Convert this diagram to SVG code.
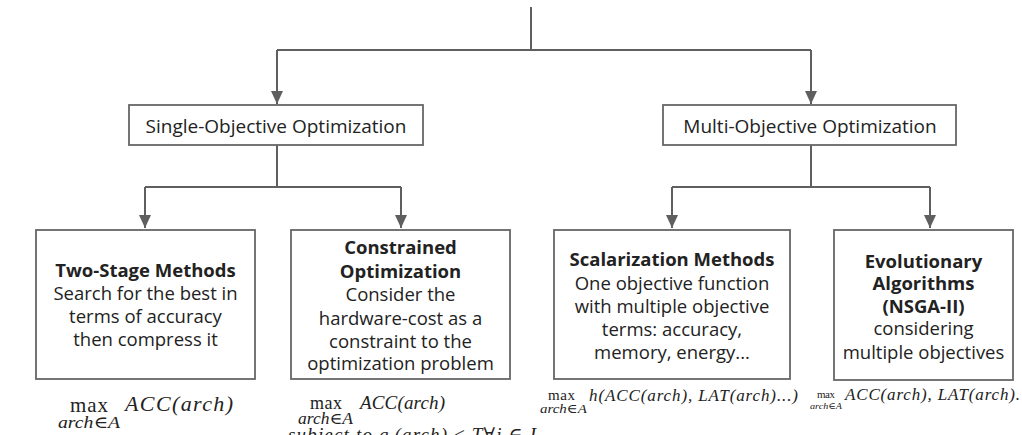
<svg xmlns="http://www.w3.org/2000/svg" width="1022" height="435" viewBox="0 0 1022 435">
<style>
.box{fill:#fff;stroke:#666;stroke-width:1.8}
.con{fill:none;stroke:#5f5f5f;stroke-width:2}
.t{font-family:"Open Sans","Noto Sans",sans-serif;font-size:18.5px;fill:#222;text-anchor:middle}
.h{font-size:19px}
.b{font-weight:bold}
.m{font-family:"Liberation Serif","DejaVu Serif",serif;fill:#222}
.i{font-style:italic}
</style>
<defs>
<marker id="ah" markerUnits="userSpaceOnUse" markerWidth="12" markerHeight="14" viewBox="0 0 12 14" refX="6" refY="13" orient="0">
<path d="M0,0 L12,0 L6,13 Z" fill="#5f5f5f"/>
</marker>
</defs>
<g id="connectors">
<path class="con" d="M531,7 V50"/>
<path class="con" d="M277,50 H811"/>
<path class="con" d="M277,50 V104" marker-end="url(#ah)"/>
<path class="con" d="M811,50 V104" marker-end="url(#ah)"/>
<path class="con" d="M277,145 V187 M145,187 H401"/>
<path class="con" d="M145,187 V228" marker-end="url(#ah)"/>
<path class="con" d="M401,187 V228" marker-end="url(#ah)"/>
<path class="con" d="M811,145 V187 M672,187 H930"/>
<path class="con" d="M672,187 V228" marker-end="url(#ah)"/>
<path class="con" d="M930,187 V228" marker-end="url(#ah)"/>
</g>
<g id="single">
<rect class="box" x="129" y="105" width="294" height="40"/>
<text class="t h" x="276" y="133">Single-Objective Optimization</text>
</g>
<g id="multi">
<rect class="box" x="663" y="105" width="293" height="40"/>
<text class="t h" x="810" y="133">Multi-Objective Optimization</text>
</g>
<g id="twostage">
<rect class="box" x="36" y="230" width="219" height="149"/>
<text class="t b" x="145.5" y="277">Two-Stage Methods</text>
<text class="t" x="145.5" y="300">Search for the best in</text>
<text class="t" x="145.5" y="323">terms of accuracy</text>
<text class="t" x="145.5" y="346">then compress it</text>
</g>
<g id="constrained">
<rect class="box" x="291" y="230" width="219" height="149"/>
<text class="t b" x="400.5" y="254">Constrained</text>
<text class="t b" x="400.5" y="278">Optimization</text>
<text class="t" x="400.5" y="301">Consider the</text>
<text class="t" x="400.5" y="325">hardware-cost as a</text>
<text class="t" x="400.5" y="348">constraint to the</text>
<text class="t" x="400.5" y="370">optimization problem</text>
</g>
<g id="scalarization">
<rect class="box" x="554" y="230" width="236" height="149"/>
<text class="t b" x="672" y="266">Scalarization Methods</text>
<text class="t" x="672" y="290">One objective function</text>
<text class="t" x="672" y="313">with multiple objective</text>
<text class="t" x="672" y="336">terms: accuracy,</text>
<text class="t" x="672" y="359">memory, energy...</text>
</g>
<g id="evolutionary">
<rect class="box" x="834" y="230" width="179" height="150"/>
<text class="t b" x="923.5" y="268">Evolutionary</text>
<text class="t b" x="923.5" y="290">Algorithms</text>
<text class="t b" x="923.5" y="313">(NSGA-II)</text>
<text class="t" x="923.5" y="335">considering</text>
<text class="t" x="923.5" y="359">multiple objectives</text>
</g>
<g id="formulas">
<text class="m" x="70" y="412" font-size="21" textLength="38">max</text>
<text class="m i" x="58" y="428" font-size="17" textLength="62" lengthAdjust="spacingAndGlyphs">arch∈A</text>
<text class="m i" x="125" y="411" font-size="22" textLength="108">ACC(arch)</text>

<text class="m" x="310" y="409" font-size="18" textLength="32">max</text>
<text class="m i" x="298" y="424" font-size="16" textLength="55" lengthAdjust="spacingAndGlyphs">arch∈A</text>
<text class="m i" x="360" y="409" font-size="19" textLength="85">ACC(arch)</text>
<text class="m i" x="288" y="441" font-size="19" textLength="248">subject to g<tspan font-size="13" dy="4">i</tspan><tspan dy="-4">(arch) ≤ T∀i ∈ I</tspan></text>

<text class="m" x="548" y="400" font-size="15" textLength="27">max</text>
<text class="m i" x="540" y="413" font-size="13" textLength="47" lengthAdjust="spacingAndGlyphs">arch∈A</text>
<text class="m i" x="589" y="401" font-size="17" textLength="209">h(ACC(arch), LAT(arch)...)</text>

<text class="m" x="817" y="398" font-size="11" textLength="18">max</text>
<text class="m i" x="810" y="409" font-size="9" textLength="32" lengthAdjust="spacingAndGlyphs">arch∈A</text>
<text class="m i" x="845" y="400" font-size="17" textLength="175">ACC(arch), LAT(arch).</text>
</g>
</svg>
